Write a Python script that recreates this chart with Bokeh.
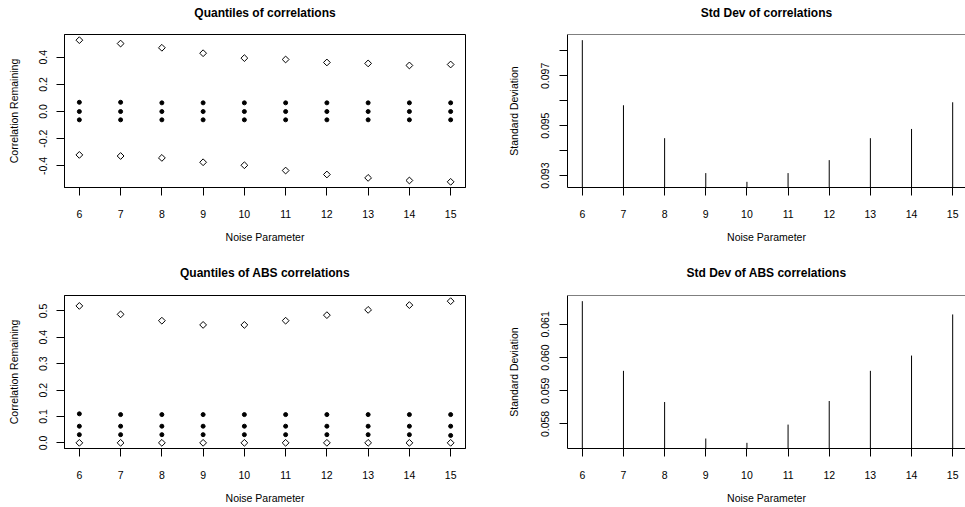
import numpy as np
from bokeh.plotting import figure
from bokeh.layouts import column, row
from bokeh.models import Range1d, FixedTicker, PrintfTickFormatter, Span, Title
from bokeh.embed import file_html
from bokeh.resources import INLINE

# ---------------- data ----------------
noise = [6, 7, 8, 9, 10, 11, 12, 13, 14, 15]

# quantiles of correlations (0%, 25%, 50%, 75%, 100%)
q_min = [-0.319, -0.327, -0.341, -0.373, -0.395, -0.434, -0.463, -0.488, -0.507, -0.517]
q_25 = [-0.061, -0.061, -0.061, -0.061, -0.061, -0.061, -0.061, -0.061, -0.061, -0.061]
q_50 = [0.000, 0.000, 0.000, 0.000, 0.000, 0.000, 0.000, 0.000, 0.000, 0.000]
q_75 = [0.068, 0.068, 0.064, 0.064, 0.064, 0.064, 0.064, 0.064, 0.064, 0.064]
q_max = [0.525, 0.500, 0.469, 0.429, 0.393, 0.383, 0.361, 0.354, 0.339, 0.346]

# quantiles of absolute correlations
a_min = [0.000, 0.000, 0.000, 0.000, 0.000, 0.000, 0.000, 0.000, 0.000, 0.000]
a_25 = [0.031, 0.031, 0.031, 0.031, 0.031, 0.031, 0.031, 0.031, 0.031, 0.028]
a_50 = [0.063, 0.063, 0.063, 0.063, 0.063, 0.063, 0.063, 0.063, 0.063, 0.063]
a_75 = [0.110, 0.107, 0.107, 0.107, 0.107, 0.107, 0.107, 0.107, 0.107, 0.107]
a_max = [0.519, 0.487, 0.463, 0.447, 0.447, 0.463, 0.484, 0.504, 0.522, 0.537]

# standard deviations
sd = [0.09843, 0.09582, 0.09450, 0.09310, 0.09275, 0.09310, 0.09362, 0.09450, 0.09487, 0.09594]
sd_abs = [0.06170, 0.05960, 0.05866, 0.05756, 0.05743, 0.05798, 0.05869, 0.05960, 0.06006, 0.06130]

# tick values
x_ticks = noise
yt_q = [-0.4, -0.2, 0.0, 0.2, 0.4]
yt_a = [0.0, 0.1, 0.2, 0.3, 0.4, 0.5]
yt_sd_major = [0.093, 0.095, 0.097]
yt_sd_minor = [0.094, 0.096, 0.098]
yt_sda = [0.058, 0.059, 0.060, 0.061]

titles = ["Quantiles of correlations", "Std Dev of correlations",
          "Quantiles of ABS correlations", "Std Dev of ABS correlations"]
xlab = "Noise Parameter"
ylab_q = "Correlation Remaining"
ylab_sd = "Standard Deviation"

FONT = "Liberation Sans"


def r_range(vals, frac=1.0):
    lo, hi = min(vals), max(vals)
    pad = 0.04 * (hi - lo)
    start, end = lo - pad, hi + pad
    return start, start + (end - start) * frac


def make_fig(width, height, borders, title, ylabel, xr, yr, title_gap,
             ylab_standoff, ylab_axis_standoff, clipped=False):
    bl, br, bt, bb = borders
    p = figure(width=width, height=height, output_backend="svg", toolbar_location=None,
               x_range=Range1d(*xr), y_range=Range1d(*yr), title=title,
               min_border_left=bl, min_border_right=br, min_border_top=bt, min_border_bottom=bb,
               background_fill_color="white", border_fill_color="white")
    # thin spacer panel between the frame and the title (keeps the title high)
    p.add_layout(Title(text=" ", text_font_size="1px", standoff=title_gap), "above")
    p.title.text_font = FONT
    p.title.text_font_size = "12px"
    p.title.text_font_style = "bold"
    p.title.align = "center"
    p.title.vertical_align = "top"
    p.title.text_color = "#000000"
    p.title.standoff = 0
    p.grid.visible = False
    if clipped:
        p.outline_line_color = None
        p.add_layout(Span(location=yr[1], dimension="width", line_color="black", line_width=1))
    else:
        p.outline_line_color = "black"
        p.outline_line_width = 1
    for ax in (p.xaxis[0], p.yaxis[0]):
        ax.axis_line_color = "black"
        ax.major_tick_line_color = "black"
        ax.major_tick_out = 8
        ax.major_tick_in = 0
        ax.minor_tick_line_color = None
        ax.major_label_text_font = FONT
        ax.major_label_text_font_size = "10.5px"
        ax.major_label_text_color = "#000000"
        ax.axis_label_text_font = FONT
        ax.axis_label_text_font_size = "10.5px"
        ax.axis_label_text_font_style = "normal"
        ax.axis_label_text_color = "#000000"
    p.xaxis.ticker = FixedTicker(ticks=x_ticks)
    p.xaxis.major_label_standoff = 14
    p.xaxis.axis_label = xlab
    p.xaxis.axis_label_standoff = 10
    p.yaxis.axis_label = ylabel
    p.yaxis.major_label_orientation = "vertical"
    p.yaxis.major_label_standoff = ylab_standoff
    p.yaxis.axis_label_standoff = ylab_axis_standoff
    return p


xr_left = r_range(noise)
xr_right = r_range(noise, frac=398.0 / 400.0)


def quantile_panel(fig, series_dots, series_open):
    for ys in series_dots:
        fig.scatter(noise, ys, marker="circle", size=4.0, fill_color="black", line_color="black")
    for ys in series_open:
        fig.scatter(noise, ys, marker="square", angle=np.pi / 4, size=4.8,
                    fill_color=None, line_color="black", line_width=1)


# top-left: quantiles
tl = make_fig(480, 253, (64, 15, 34, 66), titles[0], ylab_q, xr_left,
              r_range(q_min + q_max + q_25 + q_50 + q_75), 10, 9, 17)
tl.yaxis.ticker = FixedTicker(ticks=yt_q)
tl.yaxis.formatter = PrintfTickFormatter(format="%.1f")
quantile_panel(tl, (q_25, q_50, q_75), (q_min, q_max))

# top-right: sd
tr = make_fig(485, 253, (87, 0, 34, 66), titles[1], ylab_sd, xr_right, r_range(sd),
              10, 10, 19, clipped=True)
tr.yaxis.ticker = FixedTicker(ticks=yt_sd_major, minor_ticks=yt_sd_minor)
tr.yaxis.formatter = PrintfTickFormatter(format="%.3f")
tr.yaxis.minor_tick_line_color = "black"
tr.yaxis.minor_tick_out = 8
tr.yaxis.minor_tick_in = 0
tr.segment(x0=noise, y0=0, x1=noise, y1=sd, line_color="black", line_width=1)

# bottom-left: abs quantiles
bl = make_fig(480, 254, (64, 15, 42, 59), titles[2], ylab_q, xr_left,
              r_range(a_min + a_max + a_25 + a_50 + a_75), 11, 9, 17)
bl.yaxis.ticker = FixedTicker(ticks=yt_a)
bl.yaxis.formatter = PrintfTickFormatter(format="%.1f")
quantile_panel(bl, (a_25, a_50, a_75), (a_min, a_max))

# bottom-right: abs sd
br = make_fig(485, 254, (87, 0, 42, 59), titles[3], ylab_sd, xr_right, r_range(sd_abs),
              11, 10, 19, clipped=True)
br.yaxis.ticker = FixedTicker(ticks=yt_sda)
br.yaxis.formatter = PrintfTickFormatter(format="%.3f")
br.segment(x0=noise, y0=0, x1=noise, y1=sd_abs, line_color="black", line_width=1)

layout = column(row(tl, tr), row(bl, br))

open("out.html", "w").write(file_html(layout, INLINE))
